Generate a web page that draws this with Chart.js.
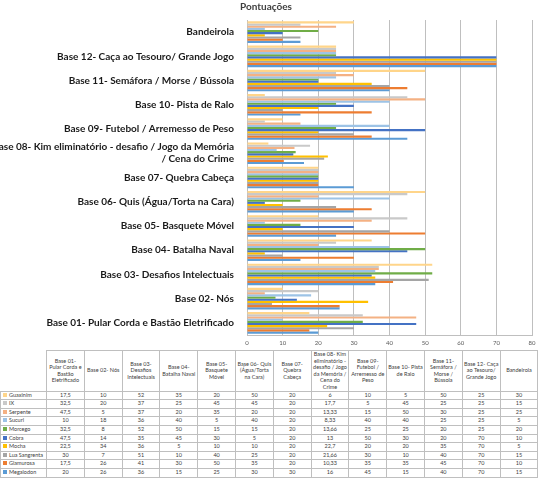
<!DOCTYPE html>
<html>
<head>
<meta charset="utf-8">
<script src="https://cdn.jsdelivr.net/npm/chart.js@4.4.1/dist/chart.umd.min.js"></script>
<style>
  body { margin: 0; background: #fff; }
  #wrap { position: relative; width: 540px; height: 482px; overflow: hidden; }
  #chart { position: absolute; left: 0; top: 0; }
  table.data {
    position: absolute; left: 0; top: 350px;
    border-collapse: collapse; table-layout: fixed;
    font-family: Lato, "Liberation Sans", sans-serif; font-size: 5.5px; color: #404040;
  }
  table.data td, table.data th {
    border: 1px solid #BFBFBF; padding: 0 1px; text-align: center;
    font-weight: normal; overflow: hidden; line-height: 1.2;
  }
  table.data thead th { height: 35px; vertical-align: middle; }
  table.data tbody td { height: 7.6px; line-height: 7.6px; white-space: nowrap; }
  table.data th.corner { border-top: none; border-left: none; }
  table.data td.name { text-align: left; padding-left: 2px; }
  .key { display: inline-block; width: 4px; height: 4px; margin-right: 2px; vertical-align: 0; }
</style>
</head>
<body>
<div id="wrap">
  <canvas id="chart" width="540" height="350"></canvas>
  <table class="data" id="table"></table>
</div>
<script>
// categories, same order as the table columns
const categories = [
  "Base 01- Pular Corda e Bastão Eletrificado",
  "Base 02- Nós",
  "Base 03- Desafios Intelectuais",
  "Base 04- Batalha Naval",
  "Base 05- Basquete Móvel",
  "Base 06- Quis (Água/Torta na Cara)",
  "Base 07- Quebra Cabeça",
  "Base 08- Kim eliminatório - desafio / Jogo da Memória / Cena do Crime",
  "Base 09- Futebol / Arremesso de Peso",
  "Base 10- Pista de Ralo",
  "Base 11- Semáfora / Morse / Bússola",
  "Base 12- Caça ao Tesouro/ Grande Jogo",
  "Bandeirola"
];

const seriesNames = ["Guaxinim", "IX", "Serpente", "Sucuri", "Morcego", "Cobra", "Mocha", "Lua Sangrenta", "Glamurosa", "Megalodon"];

const guaxinim     = [17.5, 10, 52, 35, 20, 50, 20, 6,     10,  5, 50, 25, 30];
const ix           = [32.5, 20, 37, 25, 45, 45, 20, 17.7,   5, 45, 25, 25, 15];
const serpente     = [47.5,  5, 37, 20, 35, 20, 20, 13.33, 15, 50, 30, 25, 25];
const sucuri       = [10,   18, 36, 40,  5, 40, 20, 8.33,  40, 40, 25, 25,  5];
const morcego      = [32.5,  8, 52, 50, 15, 15, 20, 13.66, 25, 25, 20, 25, 20];
const cobra        = [47.5, 14, 35, 45, 30,  5, 20, 13,    50, 30, 20, 70, 10];
const mocha        = [22.5, 34, 36,  5, 10, 10, 20, 22.7,  20, 20, 35, 70,  5];
const luaSangrenta = [30,    7, 51, 10, 40, 25, 20, 21.66, 30, 10, 40, 70, 15];
const glamurosa    = [17.5, 26, 41, 30, 50, 35, 20, 10.33, 35, 35, 45, 70, 10];
const megalodon    = [20,   26, 36, 15, 25, 30, 30, 16,    45, 15, 40, 70, 15];

const xTicks = [0, 10, 20, 30, 40, 50, 60, 70, 80];

const seriesValues = [guaxinim, ix, serpente, sucuri, morcego, cobra, mocha, luaSangrenta, glamurosa, megalodon];
const colors = ["#FFD58A", "#C9C9C9", "#F4B183", "#9DC3E6", "#70AD47", "#4472C4", "#FFC000", "#A5A5A5", "#ED7D31", "#5B9BD5"];

const FONT = "Lato, 'Liberation Sans', sans-serif";

// long labels get split on the last " / "
function wrapLabel(label) {
  if (label.length < 50) return label;
  const i = label.lastIndexOf(" / ");
  return [label.slice(0, i), label.slice(i + 1)];
}

// chart lists Bandeirola at the top, Base 01 at the bottom
const chartLabels = categories.map(wrapLabel).reverse();

new Chart(document.getElementById("chart"), {
  type: "bar",
  data: {
    labels: chartLabels,
    datasets: seriesNames.map((name, i) => ({
      label: name,
      data: seriesValues[i].slice().reverse(),
      backgroundColor: colors[i],
      borderWidth: 0,
      barPercentage: 1,
      categoryPercentage: 0.89
    }))
  },
  options: {
    indexAxis: "y",
    responsive: false,
    animation: false,
    layout: { padding: { left: 0, right: 8, top: 0, bottom: 0 } },
    plugins: {
      legend: { display: false },
      tooltip: { enabled: false },
      title: {
        display: true,
        text: "Pontuações",
        color: "#404040",
        font: { family: FONT, size: 10, weight: "bold" },
        padding: { top: 1, bottom: 7 }
      }
    },
    scales: {
      x: {
        min: 0,
        max: 80,
        afterBuildTicks: (scale) => { scale.ticks = xTicks.map(v => ({ value: v })); },
        ticks: { color: "#595959", font: { family: FONT, size: 6 }, padding: 4 },
        grid: { color: "#BFBFBF", drawTicks: false },
        border: { color: "#BFBFBF" },
        afterFit: (scale) => { scale.height = 15; }
      },
      y: {
        grid: { display: false },
        border: { color: "#BFBFBF" },
        ticks: {
          color: "#1a1a1a",
          autoSkip: false,
          padding: 5,
          font: { family: FONT, size: 10, weight: "bold" }
        },
        afterFit: (scale) => { scale.width = 247; }
      }
    }
  }
});

// ----------- DATA TABLE ----------- //
function fmt(v) {
  return String(v).replace(".", ",");
}

function buildTable() {
  const table = document.getElementById("table");
  let html = "<colgroup><col style='width:46px'>";
  categories.forEach(() => { html += "<col style='width:37.8px'>"; });
  html += "</colgroup><thead><tr><th class='corner'></th>";
  categories.forEach(c => { html += `<th>${c}</th>`; });
  html += "</tr></thead><tbody>";
  seriesNames.forEach((name, i) => {
    html += `<tr><td class="name"><span class="key" style="background:${colors[i]}"></span>${name}</td>`;
    seriesValues[i].forEach(v => { html += `<td>${fmt(v)}</td>`; });
    html += "</tr>";
  });
  html += "</tbody>";
  table.innerHTML = html;
}

buildTable();
</script>
</body>
</html>
